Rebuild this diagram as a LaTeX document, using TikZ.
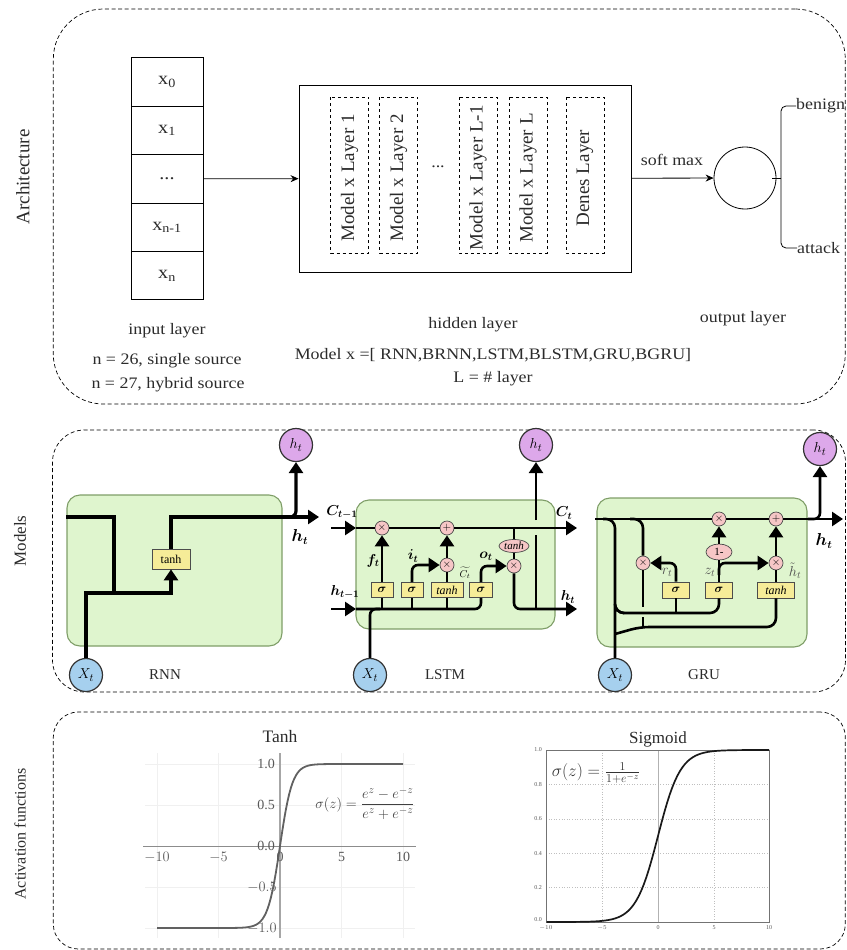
\documentclass[tikz,border=0pt]{standalone}
\usepackage{amsmath}
\usepackage{fontspec}
\setmainfont{Liberation Serif}
\newfontfamily\widefont[FakeStretch=1.12]{Liberation Serif}
\usetikzlibrary{shapes.geometric, arrows.meta, positioning, calc}
\definecolor{inkgray}{HTML}{2B2B2B}
\definecolor{cellgreen}{HTML}{DFF5CE}
\definecolor{celledge}{HTML}{7F9E68}
\definecolor{opbox}{HTML}{F6EC98}
\definecolor{oppink}{HTML}{F6C6C6}
\definecolor{outpurple}{HTML}{DDA8EA}
\definecolor{inblue}{HTML}{A6D0EE}
\tikzset{
	panel/.style={rectangle, draw, dashed, line width=0.7pt, dash pattern=on 4pt off 2.6pt},
	txt/.style={inner sep=0pt, text=inkgray, font=\widefont\fontsize{16}{19}\selectfont},
	sidelabel/.style={inner sep=0pt, rotate=90, text=inkgray},
	stack/.style={rectangle, draw, line width=0.8pt, minimum width=72pt, minimum height=48.4pt, text=inkgray, font=\widefont\fontsize{18}{21}\selectfont},
	layer/.style={rectangle, draw, dashed, line width=0.8pt, rotate=90, minimum width=156pt, minimum height=38pt, inner sep=0pt, text=inkgray, font=\fontsize{19}{22}\selectfont, execute at end node=\hspace{6pt}},
	thin arr/.style={line width=0.8pt, -{Stealth[length=8pt,width=7pt]}},
	cellbox/.style={rectangle, draw=celledge, fill=cellgreen, line width=1.1pt, rounded corners=13pt},
	opnode/.style={rectangle, draw=black!70, fill=opbox, line width=0.7pt, inner sep=0pt, minimum height=15pt, font=\fontsize{12}{14}\selectfont},
	opcirc/.style={circle, draw=black!70, fill=oppink, line width=0.7pt, inner sep=0pt, minimum size=14pt, font=\fontsize{11}{12}\selectfont},
	opell/.style={ellipse, draw=black!70, fill=oppink, line width=0.7pt, inner sep=0pt, font=\fontsize{11}{12}\selectfont},
	innode/.style={circle, draw=black!80, fill=inblue, line width=1.2pt, inner sep=0pt, minimum size=33pt, font=\fontsize{15}{17}\selectfont},
	outnode/.style={circle, draw=black!80, fill=outpurple, line width=1.2pt, inner sep=0pt, minimum size=33pt, font=\fontsize{15}{17}\selectfont},
	wire/.style={line width=2.6pt},
	arr/.style={line width=2.6pt, -{Triangle[length=11pt,width=14pt]}},
	celllab/.style={inner sep=0pt, text=inkgray, font=\fontsize{15}{17}\selectfont},
	mathlab/.style={inner sep=0pt, font=\fontsize{14}{16}\selectfont},
	ticklab/.style={inner sep=0pt, text=black!65, font=\fontsize{14}{16}\selectfont},
	smalltick/.style={inner sep=0pt, text=black!65, font=\fontsize{6}{7}\selectfont}
}

\begin{document}
\begin{tikzpicture}[x=1pt, y=-1pt]
	\useasboundingbox (0,0) rectangle (846,950);

	\node[panel, minimum width=792pt, minimum height=395pt, rounded corners=50pt] (archpanel) at (449.3, 206.5) {};
	\node[panel, minimum width=793pt, minimum height=262pt, rounded corners=32pt] (modelpanel) at (449, 561) {};
	\node[panel, minimum width=792pt, minimum height=237pt, rounded corners=25pt] (funcpanel) at (449.3, 830.5) {};

	\node[sidelabel, font=\fontsize{19}{22}\selectfont] (archlab) at (23, 177) {Architecture};
	\node[sidelabel, font=\fontsize{17}{20}\selectfont] (modellab) at (20, 541) {Models};
	\node[sidelabel, font=\fontsize{16}{19}\selectfont] (funclab) at (20, 834) {Activation functions};

	% input layer
	\node[stack] (x0) at (167, 82) {x\textsubscript{0}};
	\node[stack] (x1) at (167, 130.4) {x\textsubscript{1}};
	\node[stack] (xdots) at (167, 178.8) {...};
	\node[stack] (xn1) at (167, 227.2) {x\textsubscript{n-1}};
	\node[stack] (xn) at (167, 275.6) {x\textsubscript{n}};
	\node[txt] (inlab) at (167, 331) {input layer};
	\node[txt] (insrca) at (167, 361) {n = 26, single source};
	\node[txt] (insrcb) at (168, 385) {n = 27, hybrid source};

	% hidden layer
	\node[rectangle, draw, line width=0.9pt, minimum width=332pt, minimum height=187pt] (hidden) at (465, 178.5) {};
	\node[layer] (la) at (349.5, 175) {Model x Layer 1};
	\node[layer] (lb) at (398.5, 175) {Model x Layer 2};
	\node[txt] (ldots) at (438, 167) {...};
	\node[layer] (lc) at (478, 175) {Model x Layer L-1};
	\node[layer] (ld) at (528, 175) {Model x Layer L};
	\node[layer] (le) at (585, 175) {Denes Layer};
	\node[txt] (hidlab) at (473, 325) {hidden layer};
	\node[txt] (modelx) at (493, 355) {Model x =[ RNN,BRNN,LSTM,BLSTM,GRU,BGRU]};
	\node[txt] (llab) at (493, 379) {L = \# layer};

	% output layer
	\node[circle, draw, line width=0.8pt, minimum size=62pt, inner sep=0pt] (softout) at (745, 178) {};
	\node[txt] (softlab) at (672, 160) {soft max};
	\node[txt, anchor=west] (benign) at (796, 106) {benign};
	\node[txt, anchor=west] (attack) at (797, 248) {attack};
	\node[txt] (outlab) at (743, 319) {output layer};
	\coordinate (bracemid) at (781, 178);
	\draw[thin arr] (xdots) -- (hidden);
	\draw[thin arr] (hidden) -- (softout);
	\draw[line width=0.8pt] ([xshift=-4pt]softout.east) -- (bracemid);
	\draw[line width=0.8pt, rounded corners=5pt] (bracemid) |- (benign.west);
	\draw[line width=0.8pt, rounded corners=5pt] (bracemid) |- (attack.west);

	% rnn
	\node[cellbox, minimum width=215pt, minimum height=151pt] (rnnbox) at (174.5, 570.5) {};
	\node[opnode, minimum width=38pt, minimum height=20pt] (rnntanh) at (171, 559) {tanh};
	\node[innode] (rnnin) at (86, 675) {$X_t$};
	\node[outnode] (rnnout) at (296, 445) {$h_t$};
	\node[mathlab, font=\fontsize{16}{18}\selectfont] (rnnhlab) at (300, 537) {$\boldsymbol{h_t}$};
	\node[celllab] (rnncap) at (165, 675) {RNN};
	\coordinate (rnnleft) at (66, 517);
	\coordinate (rnntap) at (114, 593);
	\coordinate (rnnend) at (319, 517);
	\coordinate (rnnbranch) at (284, 517);
	\draw[wire, line width=3.2pt] (rnnleft) -| (rnntap);
	\draw[arr, line width=3.2pt] (rnnin.north) |- (rnntap) -| (rnntanh.south);
	\draw[arr, line width=3.2pt] (rnntanh.north) |- (rnnend);
	\draw[arr, line width=3.2pt, rounded corners=6pt] (rnnbranch) -| (rnnout.south);

	% lstm
	\node[cellbox, minimum width=199pt, minimum height=129pt] (lstmbox) at (455.5, 564.5) {};
	\node[opcirc] (lstmmulf) at (382, 528) {$\times$};
	\node[opcirc] (lstmadd) at (447, 528) {$+$};
	\node[opcirc] (lstmmuli) at (447, 565) {$\times$};
	\node[opcirc] (lstmmulo) at (514, 566) {$\times$};
	\node[opell, minimum width=30pt, minimum height=13pt] (lstmell) at (514, 546) {$\mathit{tanh}$};
	\node[opnode, minimum width=22pt] (lstmsigf) at (382, 590) {$\boldsymbol{\sigma}$};
	\node[opnode, minimum width=22pt] (lstmsigi) at (412, 590) {$\boldsymbol{\sigma}$};
	\node[opnode, minimum width=32pt] (lstmtanh) at (447, 590) {$\mathit{tanh}$};
	\node[opnode, minimum width=23pt] (lstmsigo) at (481, 590) {$\boldsymbol{\sigma}$};
	\node[innode] (lstmin) at (370, 675) {$X_t$};
	\node[outnode] (lstmout) at (536, 445) {$h_t$};
	\node[mathlab] (lstmcin) at (342, 512) {$\boldsymbol{C_{t-1}}$};
	\node[mathlab] (lstmhin) at (345, 592) {$\boldsymbol{h_{t-1}}$};
	\node[mathlab] (lstmcout) at (564, 513) {$\boldsymbol{C_t}$};
	\node[mathlab] (lstmhout) at (568, 597) {$\boldsymbol{h_t}$};
	\node[mathlab] (lstmfl) at (373, 561) {$\boldsymbol{f_t}$};
	\node[mathlab] (lstmil) at (413, 556) {$\boldsymbol{i_t}$};
	\node[mathlab] (lstmol) at (486, 556) {$\boldsymbol{o_t}$};
	\node[mathlab, font=\fontsize{10}{12}\selectfont] (lstmctl) at (465, 573) {$\widetilde{C_t}$};
	\node[celllab] (lstmcap) at (445, 675) {LSTM};
	\coordinate (lstmcs) at (331, 528);
	\coordinate (lstmcl) at (356, 528);
	\coordinate (lstmce) at (577, 528);
	\coordinate (lstmhs) at (331, 609);
	\coordinate (lstmhl) at (356, 609);
	\coordinate (lstmhe) at (577, 609);
	\coordinate (lstmtapx) at (380, 609);
	\coordinate (lstmtapf) at (382, 609);
	\coordinate (lstmtapi) at (412, 609);
	\coordinate (lstmtapt) at (447, 609);
	\coordinate (lstmtapa) at (514, 528);
	\coordinate (lstmtapb) at (536, 609);
	\coordinate (lstmgapa) at (536, 535);
	\coordinate (lstmgapb) at (536, 520);
	\draw[arr] (lstmcs) -- (lstmcl);
	\draw[arr] (lstmhs) -- (lstmhl);
	\draw[wire] (lstmcl) -- (lstmmulf);
	\draw[wire] (lstmmulf) -- (lstmadd);
	\draw[arr] (lstmadd) -- (lstmce);
	\draw[wire, rounded corners=6pt] (lstmhl) -| (lstmsigo.south);
	\draw[arr, rounded corners=6pt] (lstmsigo.north) |- (lstmmulo);
	\draw[wire, rounded corners=6pt] (lstmin.north) |- (lstmtapx);
	\draw[wire] (lstmtapf) -- (lstmsigf.south);
	\draw[arr] (lstmsigf.north) -- (lstmmulf);
	\draw[wire] (lstmtapi) -- (lstmsigi.south);
	\draw[arr, rounded corners=6pt] (lstmsigi.north) |- (lstmmuli);
	\draw[wire] (lstmtapt) -- (lstmtanh.south);
	\draw[wire] (lstmtanh.north) -- (lstmmuli);
	\draw[arr] (lstmmuli) -- (lstmadd);
	\draw[wire] (lstmtapa) -- (lstmell);
	\draw[wire] (lstmell) -- (lstmmulo);
	\draw[arr, rounded corners=6pt] (lstmmulo) |- (lstmhe);
	\draw[wire] (lstmtapb) -- (lstmgapa);
	\draw[arr] (lstmgapb) -- (lstmout);

	% gru
	\node[cellbox, minimum width=210pt, minimum height=149pt] (grubox) at (702, 572.5) {};
	\node[opcirc] (grumulb) at (719, 519) {$\times$};
	\node[opcirc] (gruadd) at (776, 519) {$+$};
	\node[opcirc] (grumula) at (643, 563) {$\times$};
	\node[opcirc] (grumulc) at (776, 563) {$\times$};
	\node[opell, minimum width=26pt, minimum height=16pt] (gruone) at (719, 552) {1-};
	\node[opnode, minimum width=27pt, minimum height=16pt] (grusiga) at (676, 590) {$\boldsymbol{\sigma}$};
	\node[opnode, minimum width=27pt, minimum height=16pt] (grusigb) at (719, 590) {$\boldsymbol{\sigma}$};
	\node[opnode, minimum width=37pt, minimum height=16pt] (grutanh) at (776, 590) {$\mathit{tanh}$};
	\node[innode] (gruin) at (615, 675) {$X_t$};
	\node[outnode] (gruout) at (820, 449) {$h_t$};
	\node[mathlab, font=\fontsize{16}{18}\selectfont] (gruhlab) at (824, 541) {$\boldsymbol{h_t}$};
	\node[mathlab, text=black!70] (grurl) at (667, 572) {$r_t$};
	\node[mathlab, text=black!70] (gruzl) at (710, 572) {$z_t$};
	\node[mathlab, text=black!70] (gruhl) at (795, 571) {$\tilde{h}_t$};
	\node[celllab] (grucap) at (704, 675) {GRU};
	\coordinate (gruleft) at (595, 519);
	\coordinate (gruend) at (843, 519);
	\coordinate (grutapa) at (603, 519);
	\coordinate (grutapb) at (630, 519);
	\coordinate (grubranch) at (808, 519);
	\coordinate (grubusa) at (615, 613);
	\coordinate (grutapc) at (615, 634);
	\coordinate (grubusb) at (640, 627);
	\coordinate (grugapa) at (643, 607);
	\coordinate (grugapb) at (643, 617);
	\coordinate (grubusc) at (643, 627);
	\coordinate (grutapd) at (676, 613);
	\coordinate (grutape) at (719, 575);
	\draw[wire] (gruleft) -- (grumulb);
	\draw[wire] (grumulb) -- (gruadd);
	\draw[arr] (gruadd) -- (gruend);
	\draw[arr, rounded corners=6pt] (grubranch) -| (gruout.south);
	\draw[wire, rounded corners=9pt] (grutapa) -| (grubusa) -| (grusigb.south);
	\draw[wire, rounded corners=9pt] (grutapb) -| (grumula);
	\draw[wire] (grumula) -- (grugapa);
	\draw[wire] (grugapb) -- (grubusc);
	\draw[wire, rounded corners=9pt] (gruin.north) |- (grubusa) -- ++(8,0);
	\draw[wire, rounded corners=9pt] (grutapc) -- (grubusb) -| (grutanh.south);
	\draw[wire] (grutapd) -- (grusiga.south);
	\draw[arr, rounded corners=6pt] (grusiga.north) |- (grumula);
	\draw[wire] (grusigb.north) -- (gruone);
	\draw[arr] (gruone) -- (grumulb);
	\draw[arr, rounded corners=6pt] (grutape) |- (grumulc);
	\draw[wire] (grutanh.north) -- (grumulc);
	\draw[arr] (grumulc) -- (gruadd);

	% tanh plot
	\node[inner sep=0pt, text=inkgray, font=\fontsize{17.5}{20}\selectfont] (tanhtitle) at (280, 737) {Tanh};
	\draw[black!6, line width=0.5pt] (157, 753) -- (157, 938) (218.5, 753) -- (218.5, 938) (341.5, 753) -- (341.5, 938) (403, 753) -- (403, 938);
	\draw[black!6, line width=0.5pt] (145, 764) -- (415, 764) (145, 805) -- (415, 805) (145, 887) -- (415, 887) (145, 928) -- (415, 928);
	\coordinate (tanhxa) at (143, 846);
	\coordinate (tanhxb) at (416, 846);
	\coordinate (tanhya) at (280, 753);
	\coordinate (tanhyb) at (280, 938);
	\draw[black!45, line width=1pt] (tanhxa) -- (tanhxb);
	\draw[black!35, line width=1.2pt] (tanhya) -- (tanhyb);
	\draw[black!62, line width=1.8pt] (157, 928) -- plot[domain=-4:4, samples=60] ({280+12.3*\x}, {846-82*tanh(\x)}) -- (403, 764);
	\node[ticklab] (ta) at (157, 857) {$-10$};
	\node[ticklab] (tb) at (218.5, 857) {$-5$};
	\node[ticklab] (tc) at (280, 857) {0};
	\node[ticklab] (td) at (341.5, 857) {5};
	\node[ticklab] (te) at (403, 857) {10};
	\node[ticklab] (tf) at (266, 764) {1.0};
	\node[ticklab] (tg) at (266, 805) {0.5};
	\node[ticklab] (th) at (266, 846) {0.0};
	\node[ticklab] (ti) at (262, 887) {$-0.5$};
	\node[ticklab] (tj) at (262, 928) {$-1.0$};
	\node[inner sep=0pt, text=black!75, font=\fontsize{15}{18}\selectfont] (tanhform) at (365, 803) {$\sigma(z)=\dfrac{e^{z}-e^{-z}}{e^{z}+e^{-z}}$};

	% sigmoid plot
	\node[inner sep=0pt, text=inkgray, font=\fontsize{17}{20}\selectfont] (sigtitle) at (658, 739) {Sigmoid};
	\draw[black!25, dotted, line width=0.6pt] (602, 750) -- (602, 922) (714, 750) -- (714, 922);
	\draw[black!25, dotted, line width=0.6pt] (546, 784.4) -- (769, 784.4) (546, 818.8) -- (769, 818.8) (546, 853.2) -- (769, 853.2) (546, 887.6) -- (769, 887.6);
	\draw[black!30, line width=0.8pt] (658, 750) -- (658, 922);
	\draw[black!55, line width=0.7pt] (546, 750) rectangle (769, 922);
	\draw[black!90, line width=1.7pt] (546.5, 922) -- plot[domain=-8:8, samples=70] ({658+11.15*\x}, {922-172/(1+exp(-\x))}) -- (769, 750);
	\node[smalltick] (sa) at (546, 928) {$-10$};
	\node[smalltick] (sb) at (602, 928) {$-5$};
	\node[smalltick] (sc) at (658, 928) {0};
	\node[smalltick] (sd) at (714, 928) {5};
	\node[smalltick] (se) at (769, 928) {10};
	\node[smalltick] (sf) at (538, 750) {1.0};
	\node[smalltick] (sg) at (538, 784.4) {0.8};
	\node[smalltick] (sh) at (538, 818.8) {0.6};
	\node[smalltick] (si) at (538, 853.2) {0.4};
	\node[smalltick] (sj) at (538, 887.6) {0.2};
	\node[smalltick] (sk) at (538, 920) {0.0};
	\node[inner sep=0pt, text=black!80, font=\fontsize{17.5}{20}\selectfont] (sigform) at (596, 773) {$\sigma(z)=\frac{1}{1+e^{-z}}$};
\end{tikzpicture}
\end{document}
